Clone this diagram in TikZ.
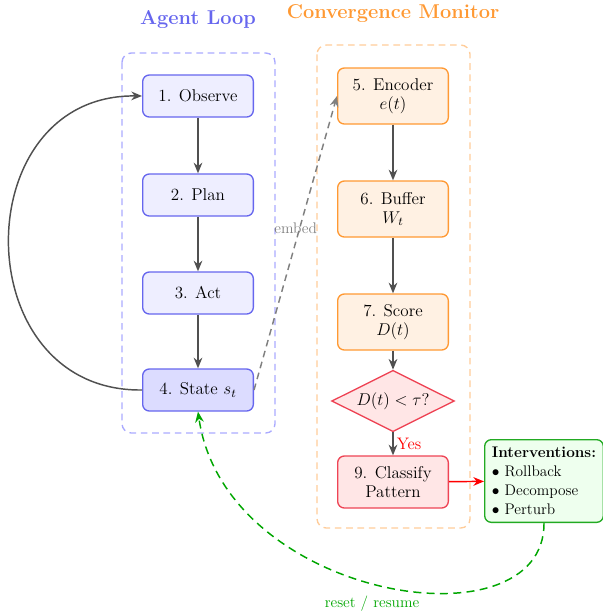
\RequirePackage{fix-cm}
\documentclass[tikz,border=0pt]{standalone}
\usetikzlibrary{shapes.geometric,arrows.meta}
\definecolor{agentc}{HTML}{6666EE}
\definecolor{agentf}{HTML}{EEEEFF}
\definecolor{agentd}{HTML}{DCDCFF}
\definecolor{agentl}{HTML}{AAAAFF}
\definecolor{monc}{HTML}{FF9933}
\definecolor{monf}{HTML}{FFF1E3}
\definecolor{monl}{HTML}{FFCC99}
\definecolor{redc}{HTML}{EE4455}
\definecolor{redf}{HTML}{FFE6E6}
\definecolor{grnc}{HTML}{22AA22}
\definecolor{grnf}{HTML}{EEFFEE}
\definecolor{arr}{HTML}{505050}
\tikzset{
  abox/.style={draw=agentc,fill=agentf,line width=1pt,rounded corners=5pt,minimum width=83pt,minimum height=31.5pt,font=\fontsize{12.8}{14.5}\selectfont,align=center},
  mbox/.style={draw=monc,fill=monf,line width=1pt,rounded corners=5pt,minimum width=83pt,minimum height=42pt,font=\fontsize{12.8}{14.5}\selectfont,align=center,inner sep=2pt},
  rbox/.style={draw=redc,fill=redf,line width=1pt,rounded corners=5pt,minimum width=83pt,minimum height=39pt,font=\fontsize{12.8}{14.5}\selectfont,align=center,inner sep=2pt},
  dmd/.style={diamond,draw=redc,fill=redf,line width=1pt,aspect=2,inner sep=0pt,minimum width=92pt,minimum height=46pt,font=\fontsize{12.8}{14.5}\selectfont},
  ibox/.style={draw=grnc,fill=grnf,line width=1pt,rounded corners=5pt,minimum width=89pt,minimum height=62pt,font=\fontsize{11.5}{14.2}\selectfont,align=left,inner sep=2pt},
  flow/.style={-{Stealth[length=8pt,width=6.5pt]},draw=arr,line width=1.1pt},
  grp/.style={dashed,line width=1pt,rounded corners=7pt,dash pattern=on 5pt off 3.5pt},
  ttl/.style={font=\fontsize{15}{17}\selectfont\bfseries}
}
\begin{document}
\begin{tikzpicture}[x=0.75pt,y=-0.75pt]
\useasboundingbox (0,0) rectangle (603,615);
% groups
\draw[grp,draw=agentl] (122,53) rectangle (275,433);
\draw[grp,draw=monl] (317,45) rectangle (470,528);
\node[ttl,text=agentc] (t1) at (198,20) {Agent Loop};
\node[ttl,text=monc] (t2) at (393,14) {Convergence Monitor};
% agent nodes
\node[abox] (n1) at (198,96) {1. Observe};
\node[abox] (n2) at (198,195) {2. Plan};
\node[abox] (n3) at (198,293) {3. Act};
\node[abox,fill=agentd] (n4) at (198,390) {4. State $s_t$};
% monitor nodes
\node[mbox] (n5) at (393,96) {5. Encoder\\$e(t)$};
\node[mbox] (n6) at (393,209) {6. Buffer\\$W_t$};
\node[mbox] (n7) at (393,322) {7. Score\\$D(t)$};
\node[dmd] (n8) at (393,401) {$D(t) < \tau$?};
\node[rbox] (n9) at (393,482) {9. Classify\\Pattern};
\node[ibox] (n10) at (544,481) {\textbf{Interventions:}\\$\bullet$ Rollback\\$\bullet$ Decompose\\$\bullet$ Perturb};
% arrows
\draw[flow] (n1) -- (n2);
\draw[flow] (n2) -- (n3);
\draw[flow] (n3) -- (n4);
\draw[flow] (n5) -- (n6);
\draw[flow] (n6) -- (n7);
\draw[flow] (n7) -- (n8);
\draw[flow] (n8) -- node[right,text=red,font=\fontsize{12.5}{14}\selectfont,xshift=-1pt] {Yes} (n9);
\draw[flow,draw=red] (n9) -- (n10);
\draw[flow] (n4.west) .. controls (-35,392) and (-35,94) .. (n1.west);
\draw[flow,draw=gray,dashed,dash pattern=on 5pt off 3.5pt] (n4.east) -- node[pos=0.55,xshift=-3pt,text=gray,font=\fontsize{11.5}{13}\selectfont] {embed} (n5.west);
\draw[flow,draw=green!65!black,dashed,dash pattern=on 6pt off 4pt] (n10.south) .. controls (545,650) and (225,600) .. (n4.south);
\node[text=green!65!black,font=\fontsize{11.5}{13}\selectfont] (lab) at (372,604) {reset / resume};
\end{tikzpicture}
\end{document}
